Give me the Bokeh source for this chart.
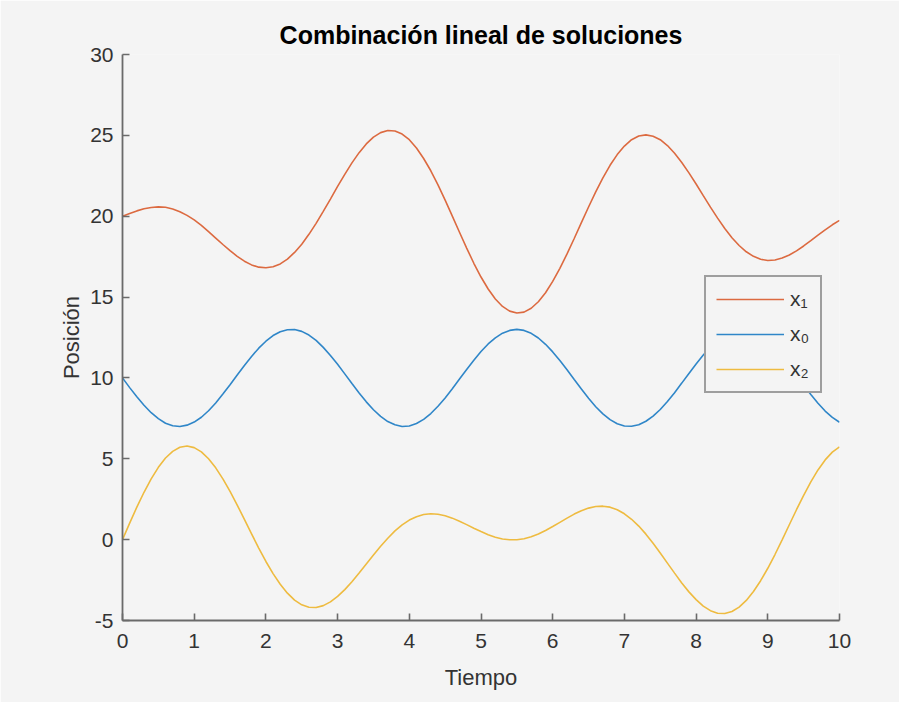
from bokeh.plotting import figure
from bokeh.models import Range1d, Legend, LegendItem, FixedTicker
from bokeh.embed import file_html
from bokeh.resources import INLINE

# ---- data ----
t = [0.0, 0.1, 0.2, 0.3, 0.4, 0.5, 0.6, 0.7, 0.8, 0.9,
     1.0, 1.1, 1.2, 1.3, 1.4, 1.5, 1.6, 1.7, 1.8, 1.9,
     2.0, 2.1, 2.2, 2.3, 2.4, 2.5, 2.6, 2.7, 2.8, 2.9,
     3.0, 3.1, 3.2, 3.3, 3.4, 3.5, 3.6, 3.7, 3.8, 3.9,
     4.0, 4.1, 4.2, 4.3, 4.4, 4.5, 4.6, 4.7, 4.8, 4.9,
     5.0, 5.1, 5.2, 5.3, 5.4, 5.5, 5.6, 5.7, 5.8, 5.9,
     6.0, 6.1, 6.2, 6.3, 6.4, 6.5, 6.6, 6.7, 6.8, 6.9,
     7.0, 7.1, 7.2, 7.3, 7.4, 7.5, 7.6, 7.7, 7.8, 7.9,
     8.0, 8.1, 8.2, 8.3, 8.4, 8.5, 8.6, 8.7, 8.8, 8.9,
     9.0, 9.1, 9.2, 9.3, 9.4, 9.5, 9.6, 9.7, 9.8, 9.9, 10.0]

x1 = [20.00, 20.17, 20.33, 20.46, 20.54, 20.58, 20.55, 20.45, 20.28, 20.05,
      19.77, 19.43, 19.05, 18.65, 18.25, 17.87, 17.52, 17.22, 16.99, 16.85,
      16.81, 16.87, 17.05, 17.35, 17.76, 18.27, 18.88, 19.56, 20.30, 21.06,
      21.84, 22.59, 23.30, 23.93, 24.47, 24.89, 25.17, 25.30, 25.27, 25.08,
      24.73, 24.22, 23.57, 22.81, 21.94, 20.99, 20.01, 19.01, 18.03, 17.09,
      16.24, 15.50, 14.88, 14.42, 14.13, 14.01, 14.07, 14.31, 14.71, 15.27,
      15.97, 16.78, 17.67, 18.62, 19.60, 20.57, 21.50, 22.37, 23.15, 23.81,
      24.34, 24.73, 24.96, 25.03, 24.95, 24.73, 24.37, 23.89, 23.32, 22.68,
      21.99, 21.27, 20.56, 19.88, 19.24, 18.67, 18.19, 17.80, 17.52, 17.34,
      17.26, 17.29, 17.41, 17.60, 17.86, 18.16, 18.49, 18.83, 19.16, 19.47, 19.74]

x0 = [10.00, 9.40, 8.83, 8.31, 7.85, 7.48, 7.20, 7.04, 7.00, 7.08,
      7.27, 7.57, 7.97, 8.45, 9.00, 9.58, 10.18, 10.77, 11.33, 11.84,
      12.27, 12.62, 12.86, 12.98, 12.99, 12.88, 12.65, 12.32, 11.89, 11.39,
      10.84, 10.25, 9.65, 9.07, 8.52, 8.03, 7.62, 7.30, 7.10, 7.00,
      7.03, 7.18, 7.44, 7.80, 8.25, 8.76, 9.33, 9.93, 10.52, 11.10,
      11.63, 12.10, 12.48, 12.77, 12.94, 13.00, 12.94, 12.76, 12.47, 12.08,
      11.61, 11.08, 10.50, 9.90, 9.31, 8.74, 8.22, 7.78, 7.42, 7.17,
      7.03, 7.01, 7.10, 7.32, 7.64, 8.05, 8.54, 9.09, 9.68, 10.28,
      10.86, 11.42, 11.91, 12.34, 12.66, 12.88, 12.99, 12.98, 12.85, 12.60,
      12.25, 11.81, 11.30, 10.74, 10.15, 9.55, 8.97, 8.43, 7.95, 7.56, 7.26]

x2 = [0.00, 1.02, 2.01, 2.93, 3.76, 4.47, 5.05, 5.46, 5.71, 5.79,
      5.69, 5.43, 5.00, 4.44, 3.76, 2.98, 2.14, 1.25, 0.36, -0.52,
      -1.35, -2.10, -2.76, -3.31, -3.74, -4.03, -4.18, -4.20, -4.08, -3.85,
      -3.51, -3.09, -2.60, -2.06, -1.50, -0.95, -0.41, 0.09, 0.54, 0.91,
      1.21, 1.42, 1.55, 1.60, 1.57, 1.48, 1.33, 1.14, 0.93, 0.71,
      0.50, 0.30, 0.15, 0.04, -0.01, -0.01, 0.06, 0.18, 0.35, 0.57,
      0.81, 1.07, 1.33, 1.58, 1.79, 1.95, 2.05, 2.07, 2.01, 1.85,
      1.60, 1.26, 0.84, 0.34, -0.22, -0.83, -1.45, -2.07, -2.68, -3.23,
      -3.71, -4.11, -4.39, -4.55, -4.57, -4.44, -4.17, -3.76, -3.21, -2.54,
      -1.77, -0.92, -0.01, 0.92, 1.85, 2.74, 3.57, 4.31, 4.93, 5.41, 5.74]

x_ticks = [0, 1, 2, 3, 4, 5, 6, 7, 8, 9, 10]
y_ticks = [-5, 0, 5, 10, 15, 20, 25, 30]
y_tick_text = {-5: "-5", 0: "0", 5: "5", 10: "10", 15: "15", 20: "20", 25: "25", 30: "30"}
labels = ["x\u2081", "x\u2080", "x\u2082"]
title_text = "Combinación lineal de soluciones"
x_label = "Tiempo"
y_label = "Posición"

BG = "#f4f4f4"
AX = "#6a6a6a"
TXT = "#333333"
FONT = "Liberation Sans"

p = figure(width=899, height=702, output_backend="svg", toolbar_location=None,
           x_range=Range1d(0, 10), y_range=Range1d(-5, 30),
           min_border_left=122, min_border_right=60,
           min_border_top=54, min_border_bottom=82,
           background_fill_color=BG, border_fill_color=BG,
           outline_line_color=None)

p.title.text = title_text
p.title.text_font = FONT
p.title.text_font_style = "bold"
p.title.text_font_size = "25px"
p.title.text_color = "#000000"
p.title.align = "center"
p.title.standoff = 11

p.xgrid.visible = False
p.ygrid.visible = False

for ax in (p.xaxis[0], p.yaxis[0]):
    ax.axis_line_color = AX
    ax.axis_line_width = 1.8
    ax.major_tick_line_color = AX
    ax.major_tick_line_width = 1.6
    ax.major_tick_in = 7
    ax.major_tick_out = 0
    ax.minor_tick_line_color = None
    ax.major_label_text_font = FONT
    ax.major_label_text_font_size = "21px"
    ax.major_label_text_color = TXT
    ax.axis_label_text_font = FONT
    ax.axis_label_text_font_size = "22px"
    ax.axis_label_text_font_style = "normal"
    ax.axis_label_text_color = TXT

p.xaxis[0].ticker = FixedTicker(ticks=x_ticks)
p.yaxis[0].ticker = FixedTicker(ticks=y_ticks)
p.yaxis[0].major_label_overrides = y_tick_text
p.xaxis[0].axis_label = x_label
p.yaxis[0].axis_label = y_label
p.xaxis[0].major_label_standoff = 13
p.yaxis[0].major_label_standoff = 9
p.xaxis[0].axis_label_standoff = 14
p.yaxis[0].axis_label_standoff = 3

r1 = p.line(t, x1, line_color="#dc6a40", line_width=1.6)
r0 = p.line(t, x0, line_color="#2f86c8", line_width=1.6)
r2 = p.line(t, x2, line_color="#eebb40", line_width=1.6)

legend = Legend(items=[LegendItem(label=labels[0], renderers=[r1]),
                       LegendItem(label=labels[1], renderers=[r0]),
                       LegendItem(label=labels[2], renderers=[r2])],
                location=(582, 227))
legend.padding = 10
legend.margin = 0
legend.spacing = 11
legend.glyph_width = 68
legend.glyph_height = 20
legend.label_height = 20
legend.label_standoff = 6
legend.label_text_font = FONT
legend.label_text_font_size = "21px"
legend.label_text_color = TXT
legend.border_line_color = "#474747"
legend.border_line_width = 2
legend.background_fill_color = BG
legend.background_fill_alpha = 1.0
p.add_layout(legend)

open("out.html", "w").write(file_html(p, INLINE))
